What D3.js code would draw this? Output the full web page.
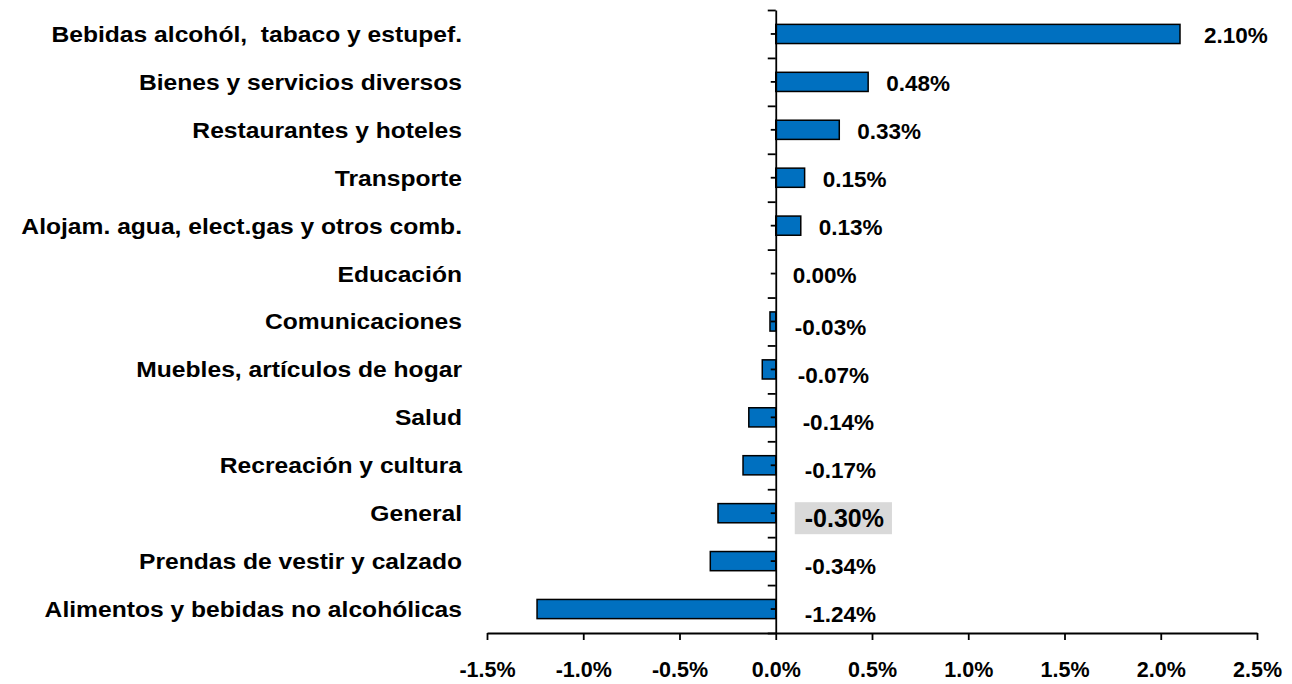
<!DOCTYPE html>
<html>
<head>
<meta charset="utf-8">
<script src="https://cdn.jsdelivr.net/npm/d3@7"></script>
<style>
  body { margin: 0; background: #fff; }
  text { font-family: "Liberation Sans", Arial, sans-serif; font-weight: bold; }
</style>
</head>
<body>
<script>
// categories top to bottom, value = variación (%)
const categories = [
  "Bebidas alcohól,  tabaco y estupef.",
  "Bienes y servicios diversos",
  "Restaurantes y hoteles",
  "Transporte",
  "Alojam. agua, elect.gas y otros comb.",
  "Educación",
  "Comunicaciones",
  "Muebles, artículos de hogar",
  "Salud",
  "Recreación y cultura",
  "General",
  "Prendas de vestir y calzado",
  "Alimentos y bebidas no alcohólicas"
];
const values = [2.10, 0.48, 0.33, 0.15, 0.13, 0.00, -0.03, -0.07, -0.14, -0.17, -0.30, -0.34, -1.24];
const xTicks = [-1.5, -1.0, -0.5, 0.0, 0.5, 1.0, 1.5, 2.0, 2.5];
const highlight = "General";

const data = categories.map((c, i) => ({ cat: c, value: values[i] }));

const width = 1292, height = 684;
const margin = { top: 10, right: 35, bottom: 51, left: 487 };

const svg = d3.select("body").append("svg")
  .attr("width", width)
  .attr("height", height);

const x = d3.scaleLinear()
  .domain([-1.5, 2.5])
  .range([margin.left, width - margin.right]);

const y = d3.scaleBand()
  .domain(categories)
  .range([margin.top, height - margin.bottom])
  .paddingInner(0.6)
  .paddingOuter(0.3);

const step = y.step();
const y0 = margin.top;

// bars
svg.append("g")
  .selectAll("rect")
  .data(data)
  .join("rect")
  .attr("x", d => x(Math.min(0, d.value)))
  .attr("y", d => y(d.cat))
  .attr("width", d => Math.abs(x(d.value) - x(0)))
  .attr("height", y.bandwidth())
  .attr("fill", "#0070C0")
  .attr("stroke", "#000")
  .attr("stroke-width", 1.5)
  .attr("display", d => d.value === 0 ? "none" : null);

// x axis
const xAxis = svg.append("g")
  .attr("transform", `translate(0,${height - margin.bottom})`)
  .call(d3.axisBottom(x)
    .tickValues(xTicks)
    .tickSize(7)
    .tickSizeOuter(0)
    .tickPadding(22)
    .tickFormat(d => d.toFixed(1) + "%"));
xAxis.select(".domain").attr("stroke-width", 1.8);
xAxis.selectAll(".tick line").attr("stroke-width", 1.8);
xAxis.selectAll(".tick text")
  .attr("font-size", 21.5)
  .attr("font-family", "Liberation Sans, Arial, sans-serif")
  .attr("font-weight", "bold")
  .attr("fill", "#000");

// y axis: boundary ticks (major) and centre ticks (minor)
const yIdx = d3.scaleLinear().domain([0, categories.length]).range([y0, y0 + step * categories.length]);
const yAxis = svg.append("g")
  .attr("transform", `translate(${x(0)},0)`)
  .call(d3.axisLeft(yIdx)
    .tickValues(d3.range(categories.length + 1))
    .tickSize(8)
    .tickSizeOuter(0)
    .tickFormat(""));
yAxis.select(".domain").attr("stroke-width", 1.8);
yAxis.selectAll(".tick line").attr("stroke-width", 1.8);

svg.append("g")
  .attr("transform", `translate(${x(0)},0)`)
  .selectAll("line")
  .data(categories)
  .join("line")
  .attr("x1", -5)
  .attr("x2", 0)
  .attr("y1", d => y(d) + y.bandwidth() / 2)
  .attr("y2", d => y(d) + y.bandwidth() / 2)
  .attr("stroke", "#000")
  .attr("stroke-width", 1.8);

// category labels (slightly wide, like the original)
svg.append("g")
  .selectAll("text")
  .data(categories)
  .join("text")
  .attr("transform", d => `translate(462,${y(d) + y.bandwidth() / 2}) scale(1.12,1)`)
  .attr("dy", "0.36em")
  .attr("text-anchor", "end")
  .attr("font-size", 22)
  .attr("fill", "#000")
  .style("white-space", "pre")
  .text(d => d);

// value labels
const lab = svg.append("g")
  .selectAll("g")
  .data(data)
  .join("g");

lab.append("text")
  .attr("x", d => d.value > 0
    ? x(d.value) + 18 + (d.value > 1 ? 6 : 0)
    : x(0) + 17 + 12 * Math.min(1, -d.value / 0.17))
  .attr("y", d => y(d.cat) + y.bandwidth() / 2 + (d.value < 0 ? 5 : 1))
  .attr("dy", "0.36em")
  .attr("font-size", d => d.cat === highlight ? 25 : 22.5)
  .attr("fill", "#000")
  .text(d => d.value.toFixed(2) + "%");

lab.filter(d => d.cat === highlight).each(function () {
  const t = d3.select(this).select("text");
  const b = t.node().getBBox();
  d3.select(this).insert("rect", "text")
    .attr("x", b.x - 10)
    .attr("y", b.y - 2)
    .attr("width", b.width + 18)
    .attr("height", b.height + 4)
    .attr("fill", "#d9d9d9");
});
</script>
</body>
</html>
